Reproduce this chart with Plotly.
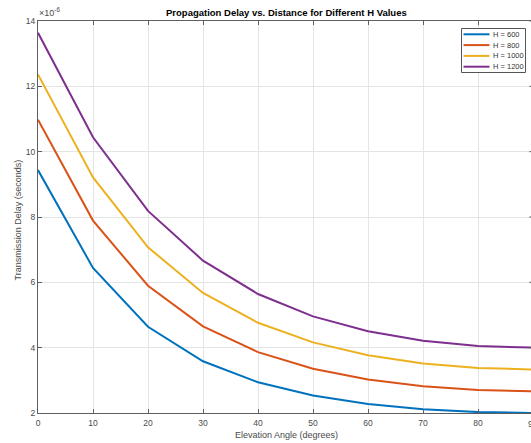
import plotly.graph_objects as go

# Elevation angle (degrees) and propagation delay (seconds) for each altitude H (km)
angles = [0, 10, 20, 30, 40, 50, 60, 70, 80, 90]
delay_h600 = [9.436e-6, 6.441e-6, 4.641e-6, 3.584e-6, 2.941e-6, 2.536e-6, 2.277e-6, 2.116e-6, 2.028e-6, 2.000e-6]
delay_h800 = [10.977e-6, 7.890e-6, 5.896e-6, 4.651e-6, 3.863e-6, 3.354e-6, 3.024e-6, 2.817e-6, 2.703e-6, 2.667e-6]
delay_h1000 = [12.363e-6, 9.211e-6, 7.072e-6, 5.675e-6, 4.762e-6, 4.161e-6, 3.765e-6, 3.516e-6, 3.378e-6, 3.333e-6]
delay_h1200 = [13.641e-6, 10.440e-6, 8.187e-6, 6.664e-6, 5.643e-6, 4.958e-6, 4.502e-6, 4.213e-6, 4.052e-6, 4.000e-6]

series_names = ["H = 600", "H = 800", "H = 1000", "H = 1200"]
series_values = [delay_h600, delay_h800, delay_h1000, delay_h1200]
series_colors = ["#0072BD", "#D95319", "#EDB120", "#7E2F8E"]

x_ticks = [0, 10, 20, 30, 40, 50, 60, 70, 80, 90]
y_ticks = [2e-6, 4e-6, 6e-6, 8e-6, 10e-6, 12e-6, 14e-6]
y_tick_labels = ["2", "4", "6", "8", "10", "12", "14"]

# Figure geometry (pixels)
W, H = 531, 443
L, R, T, B = 38, 0, 21, 30
PW, PH = W - L - R, H - T - B
PX_PER_DEG = 5.5  # horizontal scale of the angle axis


def px_x(p):
    return (p - L) / PW


def px_y(p):
    return (H - B - p) / PH


FONT = "Liberation Sans, Arial, Helvetica, sans-serif"
AXIS_COLOR = "#5f5f5f"
TEXT_COLOR = "#4a4a4a"
GRID_COLOR = "#e4e4e4"

fig = go.Figure()
for name, vals, col in zip(series_names, series_values, series_colors):
    fig.add_trace(go.Scatter(x=angles, y=vals, mode="lines", name=name,
                             line=dict(color=col, width=2), showlegend=False))

fig.update_layout(
    width=W, height=H,
    margin=dict(l=L, r=R, t=T, b=B, pad=0),
    paper_bgcolor="white", plot_bgcolor="white",
    font=dict(family=FONT, size=8.5, color=TEXT_COLOR),
)
fig.update_xaxes(
    range=[0, PW / PX_PER_DEG], tickvals=x_ticks,
    ticks="inside", ticklen=4, tickcolor=AXIS_COLOR, tickwidth=1,
    showline=True, linecolor=AXIS_COLOR, linewidth=1, mirror="ticks",
    showgrid=True, gridcolor=GRID_COLOR, gridwidth=1, zeroline=False,
    tickfont=dict(size=8.5, color=TEXT_COLOR), ticklabelstandoff=2,
)
fig.update_yaxes(
    range=[2e-6, 14e-6], tickvals=y_ticks, ticktext=y_tick_labels,
    ticks="inside", ticklen=4, tickcolor=AXIS_COLOR, tickwidth=1,
    showline=True, linecolor=AXIS_COLOR, linewidth=1, mirror=False,
    showgrid=True, gridcolor=GRID_COLOR, gridwidth=1, zeroline=False,
    tickfont=dict(size=8.5, color=TEXT_COLOR),
)

# Inward ticks on the right-hand box edge
for v in y_ticks:
    fig.add_shape(type="line", xref="paper", yref="y",
                  x0=px_x(529.3), x1=1.0, y0=v, y1=v,
                  line=dict(color=AXIS_COLOR, width=1))

# Last angle label sits at the right edge of the box
fig.add_annotation(xref="paper", yref="paper", x=px_x(L + 90 * PX_PER_DEG), y=px_y(417),
                   text=str(x_ticks[-1]), showarrow=False, xanchor="center", yanchor="top",
                   font=dict(size=8.5, color=TEXT_COLOR))

# Title, axis titles and exponent
fig.add_annotation(xref="paper", yref="paper", x=px_x(286), y=px_y(13),
                   text="Propagation Delay vs. Distance for Different H Values",
                   showarrow=False, xanchor="center", yanchor="middle",
                   font=dict(size=9.5, color="#000000", weight="bold"))
fig.add_annotation(xref="paper", yref="paper", x=px_x(286), y=px_y(435),
                   text="Elevation Angle (degrees)", showarrow=False,
                   xanchor="center", yanchor="middle",
                   font=dict(size=9, color=TEXT_COLOR))
fig.add_annotation(xref="paper", yref="paper", x=px_x(17.5), y=px_y(220),
                   text="Transmission Delay (seconds)", showarrow=False, textangle=-90,
                   xanchor="center", yanchor="middle",
                   font=dict(size=9, color=TEXT_COLOR))
fig.add_annotation(xref="paper", yref="paper", x=px_x(37), y=px_y(20),
                   text="\u00d710<sup>-6</sup>", showarrow=False,
                   xanchor="left", yanchor="bottom",
                   font=dict(size=9, color=TEXT_COLOR))

# Boxed legend in the upper right corner
leg_left, leg_right, leg_top, leg_bottom = 461.5, 525.5, 28.5, 72.5
fig.add_shape(type="rect", xref="paper", yref="paper",
              x0=px_x(leg_left), x1=px_x(leg_right), y0=px_y(leg_bottom), y1=px_y(leg_top),
              line=dict(color="#555555", width=1), fillcolor="white", layer="above")
for i, (name, col) in enumerate(zip(series_names, series_colors)):
    yc = 34.3 + i * 10.8
    fig.add_shape(type="line", xref="paper", yref="paper",
                  x0=px_x(463.5), x1=px_x(489.5), y0=px_y(yc), y1=px_y(yc),
                  line=dict(color=col, width=2), layer="above")
    fig.add_annotation(xref="paper", yref="paper", x=px_x(490.5), y=px_y(yc),
                       text=name, showarrow=False, xanchor="left", yanchor="middle",
                       font=dict(size=7.5, color="#333333"))

fig.write_html("out.html")
